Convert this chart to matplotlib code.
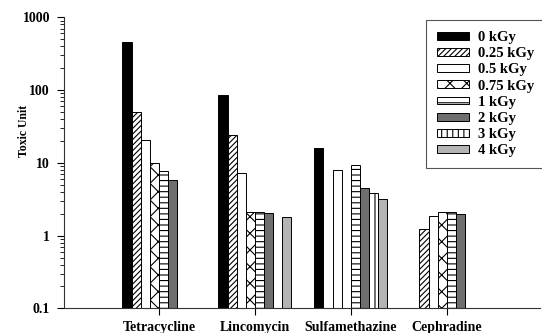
import numpy as np
import matplotlib.pyplot as plt
from matplotlib.ticker import LogLocator, NullFormatter, FixedLocator

# Toxic units for each antibiotic at each irradiation dose (nan = not measured)
drugs = ['Tetracycline', 'Lincomycin', 'Sulfamethazine', 'Cephradine']
doses = ['0 kGy', '0.25 kGy', '0.5 kGy', '0.75 kGy', '1 kGy', '2 kGy', '3 kGy', '4 kGy']
nan = np.nan
toxic = {
    '0 kGy':    [457, 85.5, 16.1, nan],
    '0.25 kGy': [50.6, 24.1, nan, 1.15],
    '0.5 kGy':  [20.6, 7.2, 7.8, 1.78],
    '0.75 kGy': [9.85, 2.02, nan, 2.02],
    '1 kGy':    [7.55, 2.02, 9.1, 1.98],
    '2 kGy':    [5.8, 1.92, 4.37, 1.87],
    '3 kGy':    [nan, nan, 3.73, nan],
    '4 kGy':    [nan, 1.73, 3.08, nan],
}

# fill colour and hatch for each dose
styles = {
    '0 kGy':    ('black', ''),
    '0.25 kGy': ('white', '//////'),
    '0.5 kGy':  ('white', ''),
    '0.75 kGy': ('white', 'xx'),
    '1 kGy':    ('white', '---'),
    '2 kGy':    ('#6e6e6e', ''),
    '3 kGy':    ('white', '|||'),
    '4 kGy':    ('#b4b4b4', ''),
}

plt.rcParams['font.family'] = ['Liberation Serif', 'DejaVu Serif']
plt.rcParams['font.weight'] = 'bold'
plt.rcParams['hatch.linewidth'] = 0.8

fig = plt.figure(figsize=(5.42, 3.33), dpi=100)
ax = fig.add_axes([0.118, 0.074, 0.878, 0.874])

x = np.arange(len(drugs))
w = 0.095
for i, d in enumerate(doses):
    fc, h = styles[d]
    ax.bar(x - 4 * w + (i + 0.5) * w, toxic[d], width=w, bottom=0.1, color=fc,
           edgecolor='black', linewidth=0.7, hatch=h, label=d)

ax.set_yscale('log')
ax.set_ylim(0.1, 1000)
ax.set_xlim(-0.99, 3.97)
ax.yaxis.set_major_locator(FixedLocator([0.1, 1, 10, 100, 1000]))
ax.yaxis.set_minor_locator(LogLocator(base=10, subs=np.arange(2, 10)))
ax.yaxis.set_minor_formatter(NullFormatter())
ax.set_yticklabels(['0.1', '1', '10', '100', '1000'])
ax.set_xticks(x)
ax.set_xticklabels(drugs)

ax.spines['top'].set_visible(False)
ax.spines['right'].set_visible(False)
for s in ['left', 'bottom']:
    ax.spines[s].set_linewidth(0.8)
    ax.spines[s].set_color('#333333')

ax.tick_params(axis='y', which='major', length=5, width=0.8, pad=5, labelsize=10)
ax.tick_params(axis='y', which='minor', length=3, width=0.6)
ax.tick_params(axis='x', length=5, width=0.8, pad=4, labelsize=10)
for lab in ax.get_xticklabels() + ax.get_yticklabels():
    lab.set_fontweight('bold')

ax.set_ylabel('Toxic Unit', fontsize=8.5, fontweight='bold')
ax.yaxis.set_label_coords(-0.072, 0.61)

leg = ax.legend(loc='upper left', bbox_to_anchor=(426 / 542, 1 - 20 / 333),
                bbox_transform=fig.transFigure, fancybox=False, framealpha=1,
                edgecolor='#555555', prop={'weight': 'bold', 'size': 10.5},
                handlelength=2.2, handleheight=0.45, handletextpad=0.6,
                labelspacing=0.22, borderpad=0.75, borderaxespad=0)
leg.get_frame().set_linewidth(0.8)

fig.savefig('out.png', dpi=100)
